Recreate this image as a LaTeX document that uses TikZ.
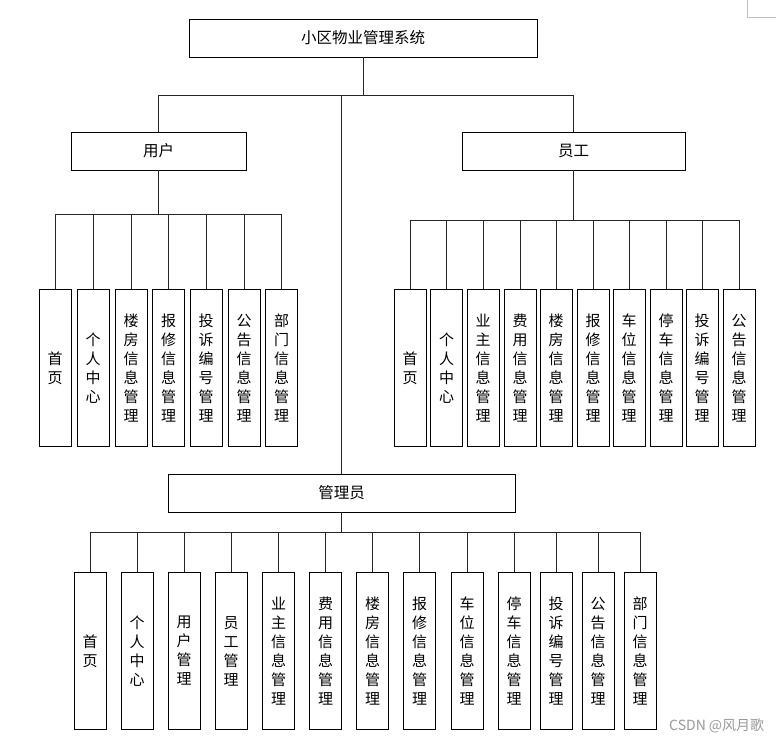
\documentclass[tikz,border=0pt]{standalone}
\usepackage{fontspec}
\setmainfont{Noto Sans CJK SC}
\begin{document}
\begin{tikzpicture}[x=1pt,y=-1pt,
  rolebox/.style={draw,line width=0.8pt,minimum height=38pt,inner sep=0pt,font=\fontsize{15.5}{18}\selectfont},
  leafbox/.style={draw,line width=0.8pt,minimum width=32pt,minimum height=157pt,inner sep=0pt,anchor=north,align=center,font=\fontsize{15}{19}\selectfont},
  wire/.style={line width=0.8pt,black!85}]
 \useasboundingbox (0,0) rectangle (784,742);
 % top levels
 \node[rolebox,minimum width=348pt] (sys) at (363,38) {小区物业管理系统};
 \node[rolebox,minimum width=175pt] (usr) at (158.5,151) {用户};
 \node[rolebox,minimum width=223pt] (emp) at (573.5,151) {员工};
 \node[rolebox,minimum width=347pt] (adm) at (341.5,493) {管理员};
 \coordinate (topbus) at (0,95);
 \coordinate (usrbus) at (0,214);
 \coordinate (empbus) at (0,220);
 \coordinate (admbus) at (0,532);
 \draw[wire] (sys.south) -- (sys.south |- topbus);
 \draw[wire] (usr.north) |- (emp.north |- topbus) -- (emp.north);
 \draw[wire] (adm.north |- topbus) -- (adm.north);
 % user leaves
 \foreach \x/\t [count=\i] in {55/{首\\页},93/{个\\人\\中\\心},131/{楼\\房\\信\\息\\管\\理},168.5/{报\\修\\信\\息\\管\\理},206/{投\\诉\\编\\号\\管\\理},244/{公\\告\\信\\息\\管\\理},281.5/{部\\门\\信\\息\\管\\理}}
  \node[leafbox] (u\i) at (\x,289) {\t};
 \draw[wire] (usr.south) -- (usr.south |- usrbus);
 \draw[wire] (u1.north |- usrbus) -- (u7.north |- usrbus);
 \foreach \i in {1,...,7} \draw[wire] (u\i.north |- usrbus) -- (u\i.north);
 % staff leaves
 \foreach \x/\t [count=\i] in {410/{首\\页},446.5/{个\\人\\中\\心},483/{业\\主\\信\\息\\管\\理},520/{费\\用\\信\\息\\管\\理},556/{楼\\房\\信\\息\\管\\理},593/{报\\修\\信\\息\\管\\理},629/{车\\位\\信\\息\\管\\理},666/{停\\车\\信\\息\\管\\理},702/{投\\诉\\编\\号\\管\\理},739/{公\\告\\信\\息\\管\\理}}
  \node[leafbox] (s\i) at (\x,289) {\t};
 \draw[wire] (emp.south) -- (emp.south |- empbus);
 \draw[wire] (s1.north |- empbus) -- (s10.north |- empbus);
 \foreach \i in {1,...,10} \draw[wire] (s\i.north |- empbus) -- (s\i.north);
 % admin leaves
 \foreach \x/\t [count=\i] in {90/{首\\页},137/{个\\人\\中\\心},184/{用\\户\\管\\理},231/{员\\工\\管\\理},278.5/{业\\主\\信\\息\\管\\理},325.5/{费\\用\\信\\息\\管\\理},372.5/{楼\\房\\信\\息\\管\\理},419.5/{报\\修\\信\\息\\管\\理},467/{车\\位\\信\\息\\管\\理},514/{停\\车\\信\\息\\管\\理},556/{投\\诉\\编\\号\\管\\理},598/{公\\告\\信\\息\\管\\理},640/{部\\门\\信\\息\\管\\理}}
  \node[leafbox] (a\i) at (\x,572) {\t};
 \draw[wire] (adm.south) -- (adm.south |- admbus);
 \draw[wire] (a1.north |- admbus) -- (a13.north |- admbus);
 \foreach \i in {1,...,13} \draw[wire] (a\i.north |- admbus) -- (a\i.north);
 % corner mark and watermark
 \draw[gray!50] (747,0) -- (747,17) -- (776,17);
 \node[gray!80,font=\fontsize{14}{14}\selectfont,anchor=west,inner sep=0pt] (mark) at (669,726) {CSDN @风月歌};
\end{tikzpicture}
\end{document}
